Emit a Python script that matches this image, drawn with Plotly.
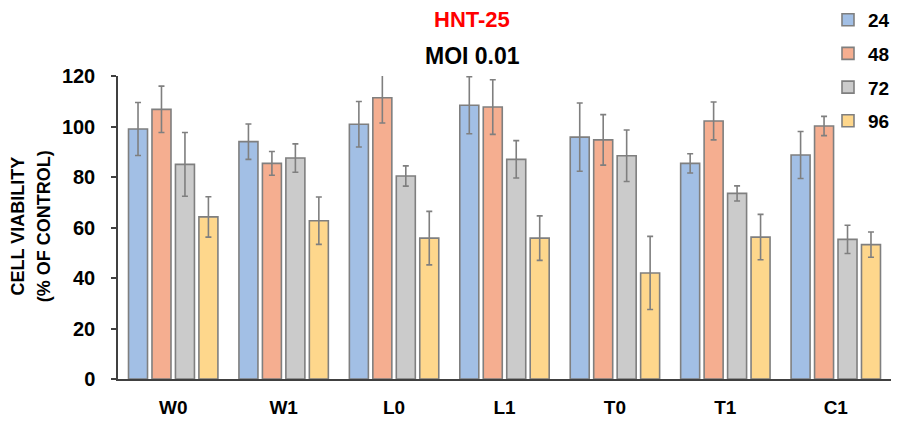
import plotly.graph_objects as go

categories = ["W0", "W1", "L0", "L1", "T0", "T1", "C1"]
series_names = ["24", "48", "72", "96"]

v24 = [99.0, 94.0, 100.9, 108.4, 95.8, 85.4, 88.7]
v48 = [106.8, 85.4, 111.4, 107.7, 94.7, 102.2, 100.2]
v72 = [85.0, 87.5, 80.4, 87.0, 88.4, 73.5, 55.3]
v96 = [64.2, 62.7, 55.8, 55.8, 42.0, 56.2, 53.2]

e24 = [10.5, 7.0, 9.0, 11.3, 13.5, 3.8, 9.3]
e48 = [9.2, 4.7, 10.0, 10.8, 10.0, 7.5, 3.8]
e72 = [12.6, 5.6, 4.0, 7.4, 10.2, 3.0, 5.6]
e96 = [8.0, 9.4, 10.6, 8.8, 14.5, 9.0, 5.0]

y_ticks = [0, 20, 40, 60, 80, 100, 120]
y_title_lines = ["CELL VIABILITY", "(% OF CONTROL)"]

values = [v24, v48, v72, v96]
errors = [e24, e48, e72, e96]
colors = ["#a2bfe5", "#f5ae90", "#cbcbcb", "#fed78c"]

FONT = "Liberation Sans, Arial, sans-serif"

fig = go.Figure()
for i, (name, vals, errs, col) in enumerate(zip(series_names, values, errors, colors)):
    fig.add_trace(go.Bar(
        x=categories, y=vals, name=name,
        legendgroup=name,
        marker=dict(color=col, line=dict(color="#7f7f7f", width=1.6)),
        error_y=dict(type="data", array=errs, visible=True,
                     color="#7f7f7f", thickness=1.6, width=3),
    ))

title_font = dict(size=18, family=FONT, color="black", weight="bold")

fig.update_layout(
    width=901, height=423,
    margin=dict(l=118, r=10, t=76, b=44, autoexpand=False),
    paper_bgcolor="white", plot_bgcolor="white",
    barmode="group", bargap=0.15, bargroupgap=0.19,
    font=dict(family=FONT, color="black"),
    showlegend=True,
    legend=dict(
        x=0.9185, y=1.248, xanchor="left", yanchor="top",
        font=dict(size=19, family=FONT, color="black", weight="bold"),
        tracegroupgap=6, itemwidth=30,
        bgcolor="rgba(0,0,0,0)",
    ),
    xaxis=dict(
        showline=True, linecolor="#404040", linewidth=1.5,
        ticks="", showgrid=False, automargin=False,
        ticklabelstandoff=10,
        tickfont=dict(size=19, family=FONT, color="black", weight="bold"),
    ),
    yaxis=dict(
        range=[0, 120], tickvals=y_ticks, automargin=False,
        showline=True, linecolor="#404040", linewidth=1.5,
        ticks="outside", ticklen=5, tickcolor="#404040", tickwidth=1.5,
        ticklabelstandoff=12,
        showgrid=False, zeroline=False,
        tickfont=dict(size=20, family=FONT, color="black", weight="bold"),
    ),
    annotations=[
        dict(text="HNT-25", x=0.458, y=1.185, xref="paper", yref="paper",
             showarrow=False, xanchor="center", yanchor="middle",
             font=dict(size=22, family=FONT, color="#ff0000", weight="bold")),
        dict(text="MOI 0.01", x=0.458, y=1.066, xref="paper", yref="paper",
             showarrow=False, xanchor="center", yanchor="middle",
             font=dict(size=23, family=FONT, color="black", weight="bold")),
        dict(text=y_title_lines[0], x=-0.130, y=0.505, xref="paper", yref="paper",
             showarrow=False, xanchor="center", yanchor="middle", textangle=-90,
             font=title_font),
        dict(text=y_title_lines[1], x=-0.0955, y=0.505, xref="paper", yref="paper",
             showarrow=False, xanchor="center", yanchor="middle", textangle=-90,
             font=title_font),
    ],
)

fig.write_html(
    "out.html",
    config={"displayModeBar": False},
    post_script="document.body.style.margin='0';document.body.style.overflow='hidden';",
)
